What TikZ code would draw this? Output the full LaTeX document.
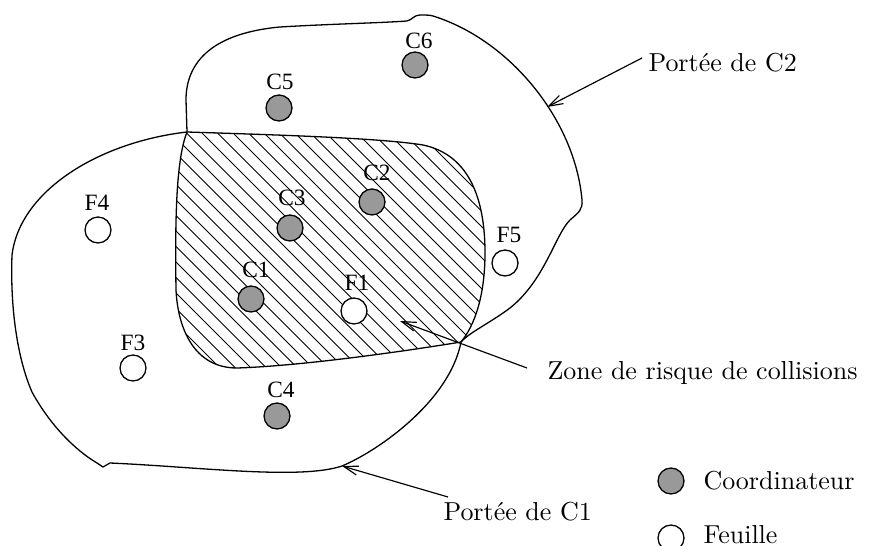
\documentclass[tikz,border=0pt]{standalone}
\usepackage{fontspec}
\newfontfamily\tm{Liberation Serif}
\usetikzlibrary{arrows.meta}
\definecolor{cgray}{RGB}{153,153,153}
\begin{document}
\begin{tikzpicture}[x=0.385pt,y=-0.385pt,
  outline/.style={line width=0.5pt},
  hatch/.style={line width=0.4pt},
  coordnode/.style={circle,draw,line width=0.5pt,fill=cgray,minimum size=10pt,inner sep=0pt},
  leafnode/.style={circle,draw,line width=0.5pt,fill=white,minimum size=10pt,inner sep=0pt},
  lbl/.style={font=\tm\fontsize{9}{10}\selectfont,inner sep=0pt},
  txt/.style={anchor=base west,inner sep=0pt},
  arr/.style={line width=0.45pt,-{Straight Barb[length=5.5pt,width=3.5pt]}}]
\useasboundingbox (0,0) rectangle (877,546);
\coordinate (P) at (187,132);
\coordinate (Q) at (461,342);
% hatching of the collision zone
\begin{scope}
\clip (P) .. controls (280,135) and (380,138) .. (423,145)
  .. controls (470,155) and (485,200) .. (485,253)
  .. controls (485,295) and (475,325) .. (Q)
  .. controls (400,352) and (300,366) .. (237,368)
  .. controls (195,368) and (178,330) .. (176,290)
  .. controls (175,220) and (176,160) .. (P) -- cycle;
\foreach \i in {-110,-94.5,...,480} \draw[hatch] (\i,100) -- ++(300,300);
\end{scope}
% range of C2 (outer part)
\draw[outline] (P) -- (186,100) .. controls (186,60) and (215,33) .. (280,27)
  .. controls (330,24) and (380,23) .. (407,21)
  .. controls (412,20) and (414,15) .. (420,15)
  .. controls (425,15) and (430,15) .. (433,16)
  .. controls (510,40) and (575,120) .. (582,200)
  .. controls (583,210) and (578,213) .. (570,220)
  .. controls (555,235) and (545,280) .. (510,308)
  .. controls (490,323) and (470,332) .. (Q);
% bottom/left of zone (part of C2)
\draw[outline] (Q) .. controls (400,352) and (300,366) .. (237,368)
  .. controls (195,368) and (178,330) .. (176,290)
  .. controls (175,220) and (176,160) .. (P);
% top/right of zone (part of C1)
\draw[outline] (P) .. controls (280,135) and (380,138) .. (423,145)
  .. controls (470,155) and (485,200) .. (485,253)
  .. controls (485,295) and (475,325) .. (Q);
% range of C1 (outer part)
\draw[outline] (P) .. controls (100,142) and (20,190) .. (12,255)
  .. controls (10,310) and (18,360) .. (32,392)
  .. controls (50,425) and (75,450) .. (97,463)
  -- (103,467) -- (110,463)
  .. controls (200,467) and (300,480) .. (342,466)
  .. controls (380,450) and (450,400) .. (Q);
% nodes
\node[coordnode] (c6) at (415,65) {};  \node[lbl] (c6l) at (419,41) {C6};
\node[coordnode] (c5) at (279,108) {}; \node[lbl] (c5l) at (280,82) {C5};
\node[coordnode] (c2) at (372,202) {}; \node[lbl] (c2l) at (377,173) {C2};
\node[coordnode] (c3) at (290,228) {}; \node[lbl] (c3l) at (292,198) {C3};
\node[coordnode] (c1) at (251,299) {}; \node[lbl] (c1l) at (256,270) {C1};
\node[coordnode] (c4) at (277,416) {}; \node[lbl] (c4l) at (281,390) {C4};
\node[leafnode] (f1) at (354,311) {};  \node[lbl] (f1l) at (357,283) {F1};
\node[leafnode] (f4) at (98,230) {};   \node[lbl] (f4l) at (97,203) {F4};
\node[leafnode] (f3) at (133,368) {};  \node[lbl] (f3l) at (133,343) {F3};
\node[leafnode] (f5) at (505,263) {};  \node[lbl] (f5l) at (509,235) {F5};
% annotations
\node[txt] (pc2) at (648,72) {Port\'ee de C2};
\node[txt] (pc1) at (443,520) {Port\'ee de C1};
\node[txt] (zone) at (547,380) {Zone de risque de collisions};
\coordinate (s2) at (642,58);  \coordinate (t2) at (547,107);
\coordinate (s1) at (448,497); \coordinate (t1) at (342,466);
\coordinate (sz) at (527,368); \coordinate (tz) at (400,321);
\draw[arr] (s2) -- (t2);
\draw[arr] (s1) -- (t1);
\draw[arr] (sz) -- (tz);
% legend
\node[coordnode] (lc) at (671,481) {};
\node[txt] (lct) at (703,490) {Coordinateur};
\node[leafnode] (lf) at (671,538) {};
\node[txt] (lft) at (703,543) {Feuille};
\end{tikzpicture}
\end{document}
